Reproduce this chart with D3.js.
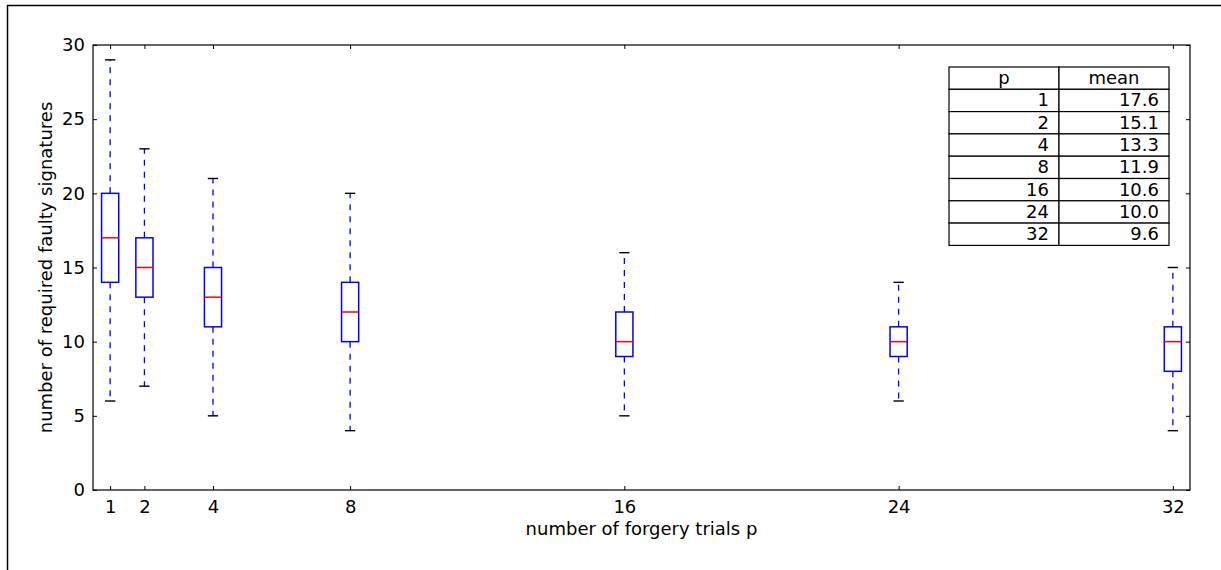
<!DOCTYPE html>
<html>
<head>
<meta charset="utf-8">
<script src="https://cdn.jsdelivr.net/npm/d3@7"></script>
<style>
  body { margin: 0; background: #fff; }
  svg text { font-family: "DejaVu Sans", sans-serif; fill: #000; }
</style>
</head>
<body>
<svg id="chart" width="1221" height="570"></svg>
<script>
// forgery trials per box and the five numbers of each box
var positions = [1, 2, 4, 8, 16, 24, 32];
var whiskerLow = [6, 7, 5, 4, 5, 6, 4];
var q1 = [14, 13, 11, 10, 9, 9, 8];
var medians = [17, 15, 13, 12, 10, 10, 10];
var q3 = [20, 17, 15, 14, 12, 11, 11];
var whiskerHigh = [29, 23, 21, 20, 16, 14, 15];
var meanLabels = ["17.6", "15.1", "13.3", "11.9", "10.6", "10.0", "9.6"];
var yTicks = [0, 5, 10, 15, 20, 25, 30];

var svg = d3.select("#chart");
var margin = {top: 45, right: 31, bottom: 80, left: 93};
var width = 1221 - margin.left - margin.right,
    height = 570 - margin.top - margin.bottom;
var fs = "18px";

// figure frame
svg.append("path")
    .attr("d", "M7.5,600V5.5H1230")
    .attr("fill", "none").attr("stroke", "#000").attr("stroke-width", 1.5);

var x = d3.scaleLinear().domain([0.5, 32.5]).range([0, width]);
var y = d3.scaleLinear().domain([0, 30]).range([height, 0]);

var g = svg.append("g")
    .attr("transform", "translate(" + margin.left + "," + margin.top + ")");

var boxes = positions.map(function(p, i) {
  return {p: p, lo: whiskerLow[i], q1: q1[i], med: medians[i], q3: q3[i], hi: whiskerHigh[i]};
});

var boxW = 0.25; // half width in data units
var capW = 0.15;

var b = g.selectAll(".box").data(boxes).enter().append("g").attr("class", "box");

// whiskers
b.append("line")
    .attr("x1", function(d) { return x(d.p); }).attr("x2", function(d) { return x(d.p); })
    .attr("y1", function(d) { return y(d.q3); }).attr("y2", function(d) { return y(d.hi); })
    .attr("stroke", "#0000ff").attr("stroke-width", 1.3).attr("stroke-dasharray", "6,6");
b.append("line")
    .attr("x1", function(d) { return x(d.p); }).attr("x2", function(d) { return x(d.p); })
    .attr("y1", function(d) { return y(d.q1); }).attr("y2", function(d) { return y(d.lo); })
    .attr("stroke", "#0000ff").attr("stroke-width", 1.3).attr("stroke-dasharray", "6,6");

// caps
["lo", "hi"].forEach(function(k) {
  b.append("line")
      .attr("x1", function(d) { return x(d.p - capW); }).attr("x2", function(d) { return x(d.p + capW); })
      .attr("y1", function(d) { return y(d[k]); }).attr("y2", function(d) { return y(d[k]); })
      .attr("stroke", "#000").attr("stroke-width", 1.4);
});

// boxes
b.append("rect")
    .attr("x", function(d) { return x(d.p - boxW); })
    .attr("width", function(d) { return x(d.p + boxW) - x(d.p - boxW); })
    .attr("y", function(d) { return y(d.q3); })
    .attr("height", function(d) { return y(d.q1) - y(d.q3); })
    .attr("fill", "none").attr("stroke", "#0000ff").attr("stroke-width", 1.5);

// medians
b.append("line")
    .attr("x1", function(d) { return x(d.p - boxW); }).attr("x2", function(d) { return x(d.p + boxW); })
    .attr("y1", function(d) { return y(d.med); }).attr("y2", function(d) { return y(d.med); })
    .attr("stroke", "#ff0000").attr("stroke-width", 1.5);

// axes, matplotlib classic style: inward ticks on all four sides
var xAxis = g.append("g").attr("transform", "translate(0," + height + ")")
    .call(d3.axisBottom(x).tickValues(positions).tickSizeInner(-4).tickSizeOuter(0).tickPadding(10));
var xTop = g.append("g")
    .call(d3.axisTop(x).tickValues(positions).tickSizeInner(-4).tickSizeOuter(0).tickFormat(""));
var yAxis = g.append("g")
    .call(d3.axisLeft(y).tickValues(yTicks).tickSizeInner(-4).tickSizeOuter(0).tickPadding(8));
var yRight = g.append("g").attr("transform", "translate(" + width + ",0)")
    .call(d3.axisRight(y).tickValues(yTicks).tickSizeInner(-4).tickSizeOuter(0).tickFormat(""));

[xAxis, xTop, yAxis, yRight].forEach(function(a) {
  a.select(".domain").remove();
  a.selectAll("text").style("font-size", fs);
});

g.append("rect").attr("width", width).attr("height", height)
    .attr("fill", "none").attr("stroke", "#000").attr("stroke-width", 1.2);

// axis labels
g.append("text")
    .attr("x", width / 2).attr("y", height + 45)
    .attr("text-anchor", "middle").style("font-size", fs)
    .text("number of forgery trials p");
g.append("text")
    .attr("transform", "translate(" + (-47) + "," + (height / 2) + ") rotate(-90)")
    .attr("text-anchor", "middle").attr("dy", "0.35em").style("font-size", fs)
    .text("number of required faulty signatures");

// table of means
var tx = 949, ty = 67, colW = 110, rowH = 22.3;
var tbl = svg.append("g").attr("transform", "translate(" + tx + "," + ty + ")");
var rows = [["p", "mean"]].concat(positions.map(function(p, i) { return [String(p), meanLabels[i]]; }));
rows.forEach(function(r, i) {
  [0, 1].forEach(function(c) {
    tbl.append("rect")
        .attr("x", c * colW).attr("y", i * rowH)
        .attr("width", colW).attr("height", rowH)
        .attr("fill", "#fff").attr("stroke", "#000").attr("stroke-width", 1.2);
    var t = tbl.append("text")
        .attr("y", i * rowH + rowH / 2 + 6)
        .style("font-size", fs)
        .text(r[c]);
    if (i === 0) t.attr("x", c * colW + colW / 2).attr("text-anchor", "middle");
    else t.attr("x", c * colW + colW - 10).attr("text-anchor", "end");
  });
});
</script>
</body>
</html>
